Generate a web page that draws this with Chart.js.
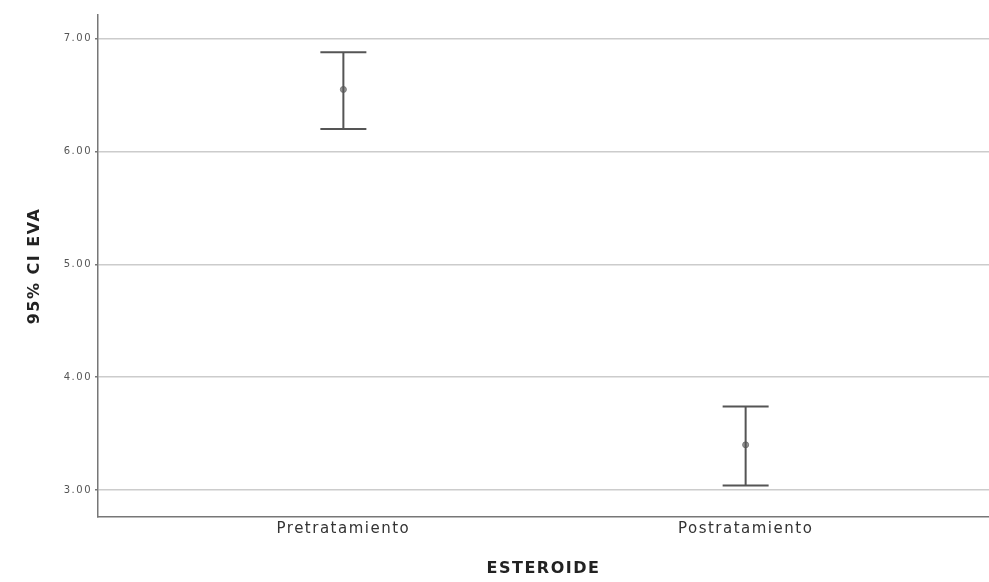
<!DOCTYPE html>
<html lang="en">
<head>
    <meta charset="UTF-8">
    <title>95% CI EVA</title>
    <script src="https://cdn.jsdelivr.net/npm/chart.js"></script>
    <style>
        body {
            margin: 0;
            background: #fff;
            overflow: hidden;
        }
        .chart-container {
            width: 994px;
            height: 582px;
        }
    </style>
</head>
<body>
<div class="chart-container">
    <canvas id="ciChart"></canvas>
</div>

<script>
    const categories = ['Pretratamiento', 'Postratamiento'];
    const means = [6.55, 3.40];
    const lowerCI = [6.20, 3.04];
    const upperCI = [6.88, 3.74];
    const yTicks = [3, 4, 5, 6, 7];

    // the reference text is set rather loose, so widen it a bit
    const spacing = {
        id: 'spacing',
        beforeLayout(chart) { chart.ctx.letterSpacing = '1.5px'; },
        beforeDraw(chart) { chart.ctx.letterSpacing = '1.5px'; }
    };

    // draws the whiskers and caps from the data arrays, using the chart scales
    const errorBars = {
        id: 'errorBars',
        afterDatasetsDraw(chart) {
            const ctx = chart.ctx;
            const x = chart.scales.x;
            const y = chart.scales.y;
            ctx.save();
            ctx.strokeStyle = '#555';
            ctx.lineWidth = 2;
            categories.forEach((c, i) => {
                const px = x.getPixelForValue(i);
                const top = y.getPixelForValue(upperCI[i]);
                const bot = y.getPixelForValue(lowerCI[i]);
                ctx.beginPath();
                ctx.moveTo(px, top);
                ctx.lineTo(px, bot);
                ctx.moveTo(px - 23, top);
                ctx.lineTo(px + 23, top);
                ctx.moveTo(px - 23, bot);
                ctx.lineTo(px + 23, bot);
                ctx.stroke();
            });
            ctx.restore();
        }
    };

    new Chart(document.getElementById('ciChart'), {
        type: 'scatter',
        data: {
            datasets: [{
                data: means.map((m, i) => ({x: i, y: m})),
                backgroundColor: '#999',
                borderColor: '#777',
                pointRadius: 3
            }]
        },
        options: {
            responsive: true,
            maintainAspectRatio: false,
            animation: false,
            layout: {padding: {top: 15, right: 0, left: 0, bottom: 0}},
            plugins: {legend: {display: false}, tooltip: {enabled: false}},
            scales: {
                x: {
                    type: 'linear',
                    min: -0.61,
                    max: 1.605,
                    afterBuildTicks: s => { s.ticks = categories.map((c, i) => ({value: i})); },
                    afterFit: s => { s.height = 65; },
                    ticks: {
                        callback: v => categories[v],
                        color: '#333',
                        font: {family: 'DejaVu Sans', size: 15},
                        padding: 3
                    },
                    grid: {display: false, drawTicks: false},
                    border: {color: '#777', width: 1.5},
                    title: {
                        display: true,
                        text: 'ESTEROIDE',
                        color: '#222',
                        font: {family: 'DejaVu Sans', size: 16, weight: 'bold'},
                        padding: {top: 9}
                    }
                },
                y: {
                    min: 2.76,
                    max: 7.21,
                    afterBuildTicks: s => { s.ticks = yTicks.map(v => ({value: v})); },
                    afterFit: s => { s.width = 98; },
                    ticks: {
                        callback: v => v.toFixed(2),
                        color: '#555',
                        font: {family: 'DejaVu Sans', size: 10},
                        padding: 3
                    },
                    grid: {color: '#ccc', lineWidth: 1.5, tickLength: 3, tickColor: '#777'},
                    border: {color: '#777', width: 1.5},
                    title: {
                        display: true,
                        text: '95% CI EVA',
                        color: '#222',
                        font: {family: 'DejaVu Sans', size: 16, weight: 'bold'},
                        padding: {top: 25}
                    }
                }
            }
        },
        plugins: [spacing, errorBars]
    });
</script>
</body>
</html>
